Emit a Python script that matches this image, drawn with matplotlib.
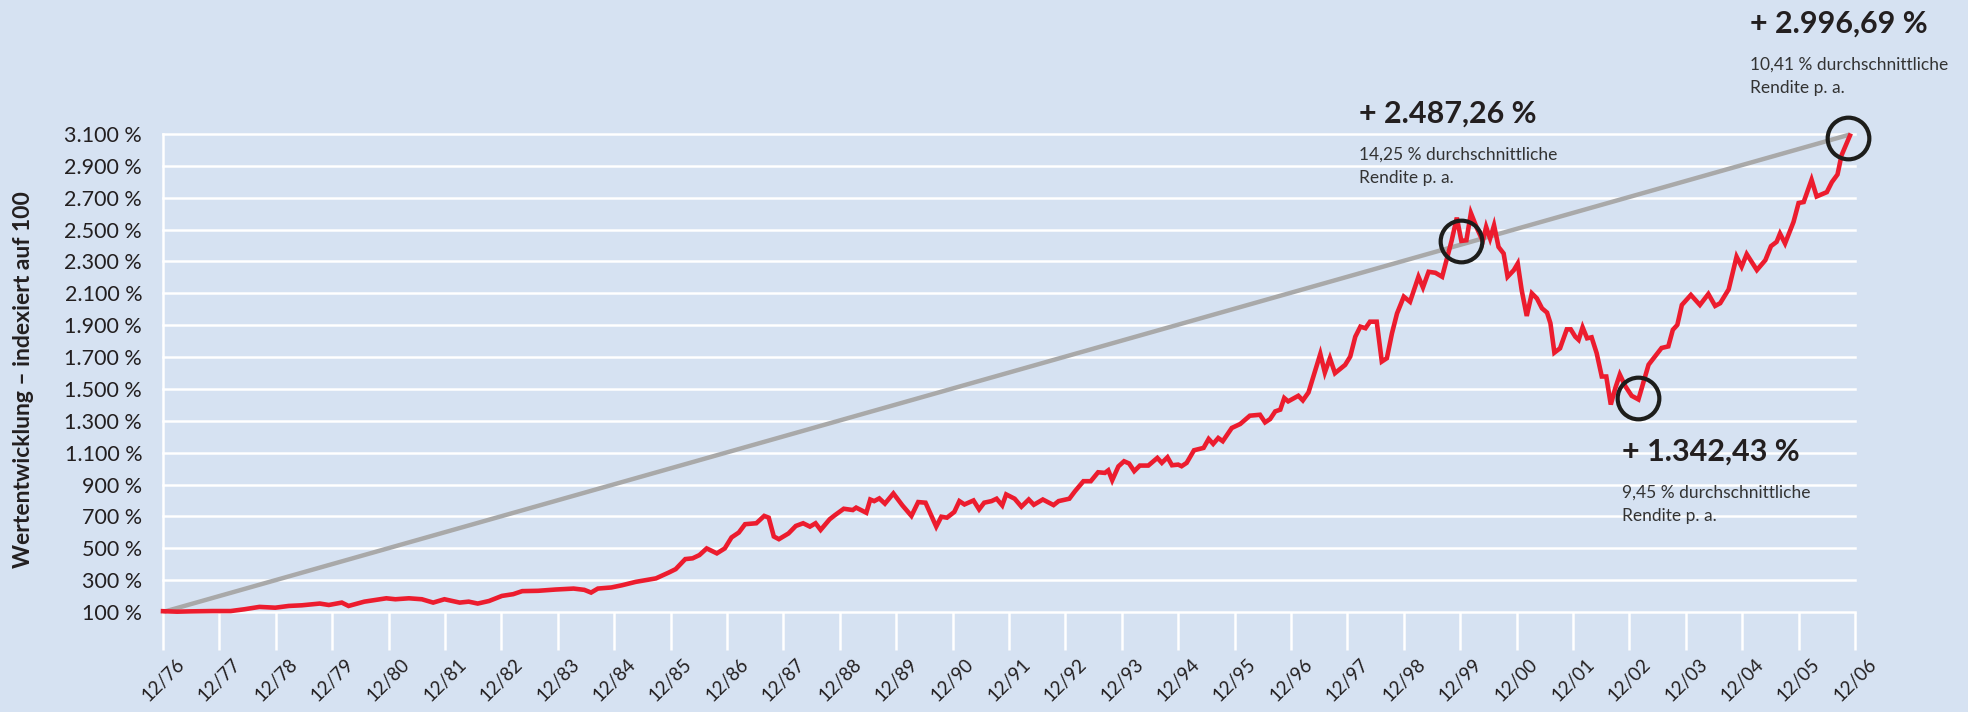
import matplotlib
matplotlib.use("Agg")
from matplotlib import pyplot as plt

# years since 12/76 and index values (start = 100)
years = [
    0.0, 0.25, 0.49, 0.88, 1.20, 1.44, 1.71, 1.99, 2.23, 2.46, 2.78, 2.94,
    3.17, 3.29, 3.57, 3.96, 4.12, 4.36, 4.59, 4.79, 4.99, 5.26, 5.42, 5.58,
    5.78, 6.01, 6.21, 6.37, 6.65, 6.96, 7.28, 7.47, 7.59, 7.71, 7.95, 8.14,
    8.38, 8.74, 8.97, 9.09,
    9.26, 9.39, 9.51, 9.64, 9.82, 9.96, 10.08, 10.21, 10.32, 10.52, 10.66,
    10.74, 10.83, 10.92, 11.09, 11.22, 11.35, 11.47, 11.57, 11.66, 11.82,
    11.91, 12.07, 12.23, 12.29, 12.47, 12.54, 12.61, 12.70, 12.80, 12.95,
    13.11, 13.27, 13.39, 13.52, 13.71, 13.80, 13.90, 14.03, 14.12, 14.21,
    14.37, 14.47, 14.56, 14.69, 14.78, 14.88, 14.95, 15.10, 15.22, 15.35,
    15.44, 15.60, 15.79, 15.88, 16.07, 16.17, 16.32, 16.45, 16.58, 16.70,
    16.76, 16.83, 16.94,
    17.04, 17.13, 17.22, 17.32, 17.47, 17.63, 17.71, 17.81, 17.89, 18.00,
    18.06, 18.15, 18.28, 18.45, 18.54, 18.62, 18.71, 18.79, 18.95, 19.10,
    19.27, 19.45, 19.54, 19.63, 19.72, 19.81, 19.88, 19.95, 20.13, 20.21,
    20.31, 20.52, 20.60, 20.69, 20.78, 20.96,
    21.05, 21.14, 21.23, 21.32, 21.40, 21.52, 21.61, 21.70, 21.79, 21.88,
    22.00, 22.11, 22.20, 22.26, 22.34, 22.44, 22.56, 22.68, 22.76, 22.85,
    22.94, 23.02, 23.11, 23.19, 23.30, 23.40, 23.46, 23.53, 23.60, 23.68,
    23.77, 23.84, 23.95, 24.02, 24.09, 24.18, 24.27, 24.36, 24.45, 24.54,
    24.60, 24.67, 24.77, 24.89, 24.96, 25.04, 25.10, 25.17, 25.25, 25.33,
    25.42,
    25.51, 25.59, 25.67, 25.75, 25.83, 25.93, 26.04, 26.16, 26.34, 26.57,
    26.69, 26.77, 26.85, 26.93, 27.09, 27.25, 27.40, 27.52, 27.61, 27.76,
    27.90, 27.99, 28.08, 28.26, 28.41, 28.51, 28.61, 28.67, 28.76, 28.91,
    29.00, 29.09, 29.23, 29.32, 29.50, 29.59, 29.69, 29.76, 29.91,
]
index_values = [
    105, 102, 104, 106, 106, 117, 132, 127, 138, 142, 153, 144,
    159, 138, 165, 186, 180, 186, 180, 159, 180, 159, 165, 153,
    169, 201, 212, 231, 233, 241, 247, 239, 222, 247, 254, 268,
    289, 311, 348, 369,
    432, 437, 457, 499, 468, 499, 568, 599, 651, 657, 703,
    692, 574, 557, 593, 640, 657, 636, 657, 615, 682,
    707, 748, 740, 755, 723, 806, 796, 813, 780, 844,
    769, 703, 790, 786, 636, 698, 692, 728, 796, 775,
    800, 744, 786, 796, 811, 769, 838, 811, 761, 806,
    773, 806, 771, 796, 811, 858, 921, 921, 977, 973,
    989, 927, 1014,
    1046, 1032, 984, 1019, 1019, 1067, 1036, 1071, 1021, 1025,
    1015, 1036, 1115, 1130, 1186, 1155, 1192, 1172, 1255, 1280,
    1332, 1338, 1290, 1311, 1359, 1370, 1443, 1422, 1457, 1428,
    1478, 1720, 1603, 1693, 1599, 1651,
    1703, 1828, 1891, 1881, 1922, 1922, 1672, 1693, 1849, 1974,
    2079, 2047, 2141, 2204, 2137, 2235, 2229, 2204, 2312, 2433,
    2575, 2429, 2433, 2604, 2506, 2429, 2517, 2444, 2527, 2391,
    2350, 2204, 2245, 2287, 2120, 1958, 2100, 2068, 2006, 1979,
    1912, 1728, 1755, 1874, 1874, 1828, 1808, 1887, 1818, 1824,
    1724,
    1578, 1578, 1402, 1505, 1590, 1516, 1457, 1434, 1652, 1757,
    1767, 1871, 1902, 2027, 2090, 2027, 2096, 2021, 2038, 2125,
    2330, 2267, 2346, 2246, 2308, 2396, 2423, 2475, 2413, 2548,
    2667, 2673, 2813, 2708, 2735, 2798, 2846, 2965, 3090,
]

# straight line from start to end value
trend_years = [0.0, 29.91]
trend_values = [100, 3096.69]

# marked points (peak, trough, end)
circle_years = [23.02, 26.16, 29.88]
circle_values = [2430, 1440, 3075]

y_ticks = list(range(100, 3101, 200))
y_tick_labels = [f"{v:,}".replace(",", ".") + " %" for v in y_ticks]
x_ticks = list(range(0, 31))
x_tick_labels = [f"12/{(76 + i) % 100:02d}" for i in x_ticks]

annotations = [
    ("+ 2.996,69 %", "10,41 % durchschnittliche", "Rendite p. a."),
    ("+ 2.487,26 %", "14,25 % durchschnittliche", "Rendite p. a."),
    ("+ 1.342,43 %", "9,45 % durchschnittliche", "Rendite p. a."),
]
# pixel anchors (left x, header centre y) in the 1968x712 picture
annotation_px = [(1750, 24), (1359, 114), (1622, 452)]

BG = "#d6e2f2"
RED = "#ec1c2e"
GREY = "#a9a9a9"
TXT = "#231f20"

plt.rcParams["font.family"] = ["Lato", "DejaVu Sans"]

W, H = 1968, 712
fig = plt.figure(figsize=(W / 100, H / 100), dpi=100, facecolor=BG)
ax = fig.add_axes([163 / W, 1 - 612 / H, (1855 - 163) / W, (612 - 134) / H])
ax.set_facecolor(BG)

for v in y_ticks:
    ax.axhline(v, color="white", lw=1.8, zorder=1, clip_on=False)

ax.plot(trend_years, trend_values, color=GREY, lw=3.2, zorder=2,
        solid_capstyle="butt", clip_on=False)
ax.plot(years, index_values, color=RED, lw=3.3, zorder=3,
        solid_joinstyle="miter", clip_on=False)
ax.plot(circle_years, circle_values, ls="none", marker="o", ms=30,
        mfc="none", mec="#1d1d1b", mew=3.0, zorder=4, clip_on=False)

ax.set_xlim(0, 30)
ax.set_ylim(100, 3100)
for side in ["top", "right", "bottom"]:
    ax.spines[side].set_visible(False)
ax.spines["left"].set_color("white")
ax.spines["left"].set_linewidth(1.8)

ax.set_yticks(y_ticks)
ax.set_yticklabels(y_tick_labels)
ax.tick_params(axis="y", length=0, pad=15, labelsize=15.5, labelcolor=TXT)

ax.set_xticks(x_ticks)
ax.set_xticklabels(x_tick_labels, rotation=45, ha="center")
ax.tick_params(axis="x", direction="out", length=27, width=1.8,
               color="white", pad=4, labelsize=13.5, labelcolor=TXT)

fig.text(24 / W, 1 - 380 / H, "Wertentwicklung – indexiert auf 100",
         rotation=90, ha="center", va="center", fontsize=16.5,
         fontweight="bold", color=TXT)

for (head, line1, line2), (px, py) in zip(annotations, annotation_px):
    fig.text(px / W, 1 - py / H, head, ha="left", va="center",
             fontsize=22, fontweight="bold", color=TXT)
    fig.text(px / W, 1 - (py + 41) / H, line1, ha="left", va="center",
             fontsize=12.5, color="#333333")
    fig.text(px / W, 1 - (py + 64) / H, line2, ha="left", va="center",
             fontsize=12.5, color="#333333")

fig.savefig("out.png", dpi=100, facecolor=BG)
